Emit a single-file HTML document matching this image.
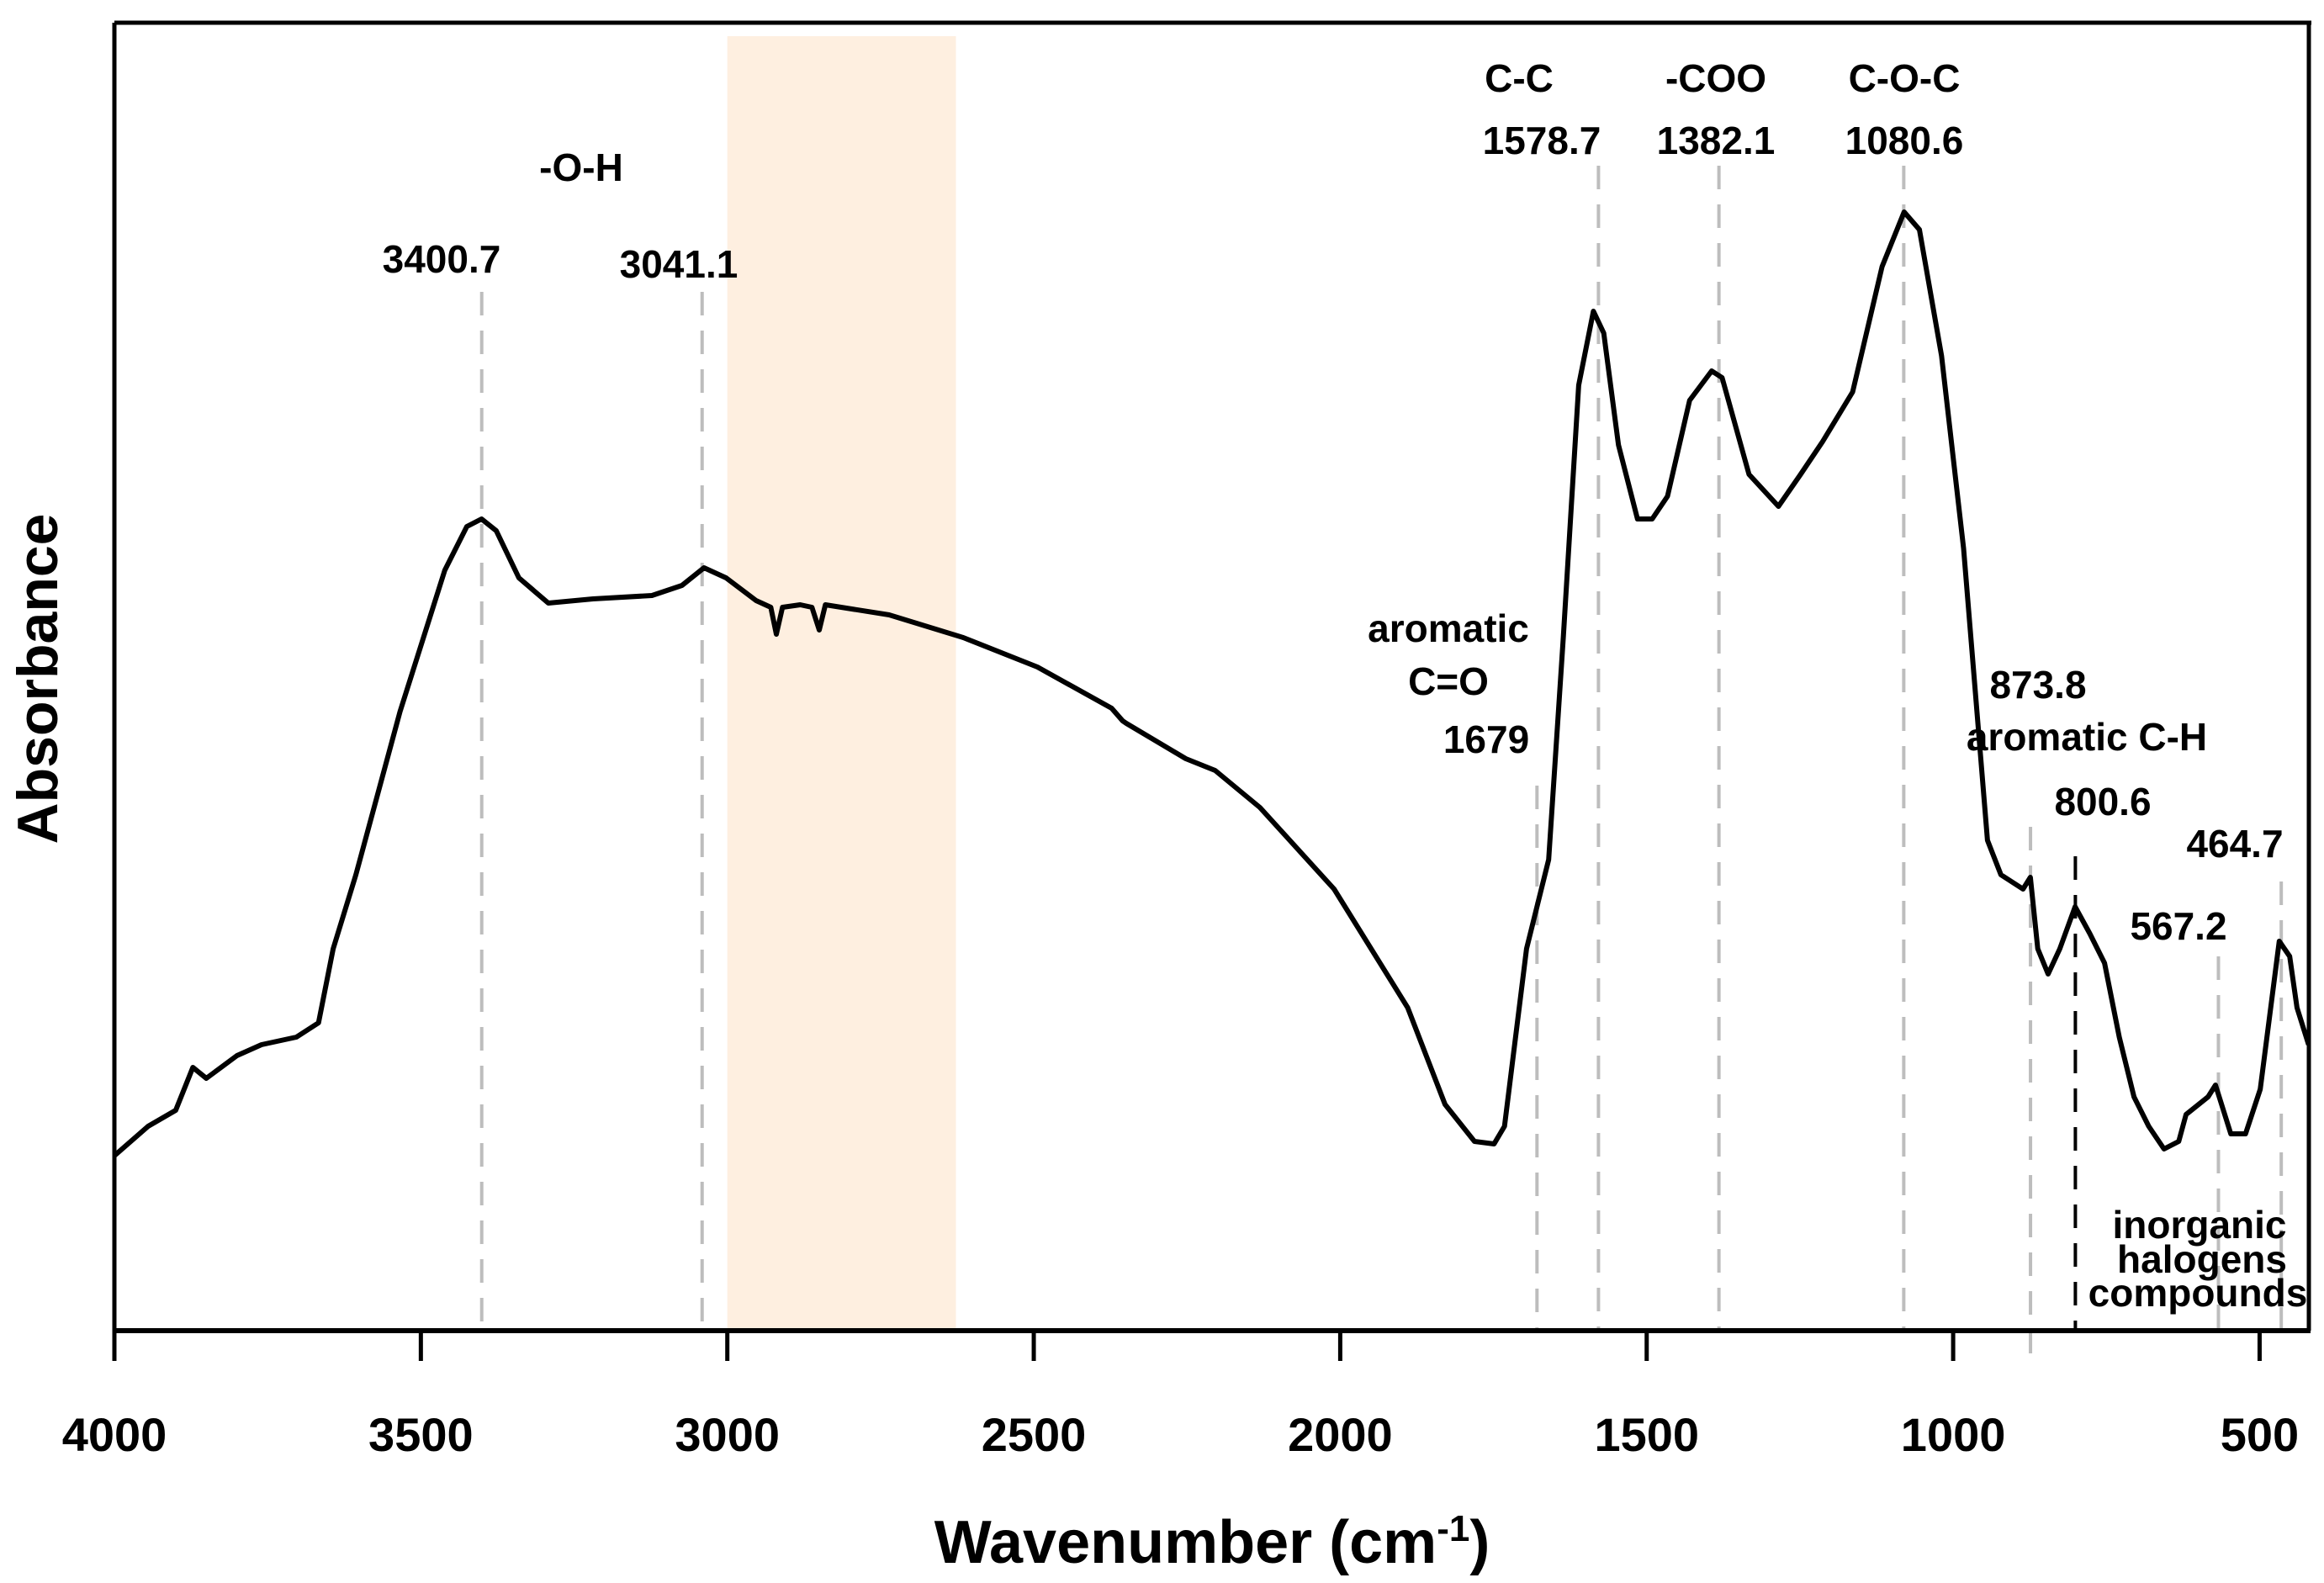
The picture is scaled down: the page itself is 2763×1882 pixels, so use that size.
<!DOCTYPE html>
<html><head><meta charset="utf-8"><style>
html,body{margin:0;padding:0;background:#fff;}
svg{display:block;font-family:"Liberation Sans",Arial,sans-serif;font-weight:bold;}
</style></head><body>
<svg id="chart" width="2763" height="1882" viewBox="0 0 2763 1882">
<g id="band"></g>
<g id="refs"></g>
<g id="axes"></g>
<g id="series"></g>
<g id="labels"></g>
</svg>
<script>
const wavenumbers = [4000,3945,3900,3872,3850,3800,3760,3703,3667,3643,3606,3534,3461,3425,3401,3377,3340,3292,3219,3123,3074,3038,3002,2953,2929,2920,2910,2881,2862,2850,2840,2736,2615,2494,2373,2355,2349,2252,2204,2131,2010,1890,1829,1781,1749,1732,1696,1660,1636,1611,1587,1570,1546,1515,1491,1466,1430,1394,1377,1333,1285,1249,1213,1164,1116,1080,1055,1019,983,944,922,886,874,862,845,826,801,777,753,729,705,681,656,632,620,584,572,547,523,499,468,451,439,420];
const absorbance = [208,243,262,313,300,327,340,349,366,454,542,736,904,956,965,951,895,865,870,874,886,907,895,868,860,828,860,863,860,833,863,851,824,789,740,725,722,680,666,622,525,384,269,225,222,243,454,560,824,1124,1212,1186,1053,965,965,992,1106,1141,1133,1018,980,1018,1057,1116,1265,1330,1309,1159,930,583,542,525,539,454,424,454,504,472,437,349,278,243,216,225,257,278,292,234,234,287,463,445,384,340];
const xTicks = [4000,3500,3000,2500,2000,1500,1000,500];
const refPeaks = [3400.7,3041.1,1679,1578.7,1382.1,1080.6,873.8,800.6,567.2,464.7];
const refTops = [347,347,934,197,197,197,983,1018,1137,1048];
const bandRange = [3000,2627];

const L=136,B=1582,R=2745,TOP=27;
const xs = v => L + (4000 - v) * 0.7287;
const ys = a => B - a;
const NS="http://www.w3.org/2000/svg";
function mk(tag, parent, attrs){const e=document.createElementNS(NS,tag);for(const k in attrs)e.setAttribute(k,attrs[k]);parent.appendChild(e);return e;}

const bandG=document.getElementById('band');
const band=mk('rect',bandG,{x:xs(bandRange[0]),y:43,width:xs(bandRange[1])-xs(bandRange[0]),height:B-43,fill:'#feefe0'});



const refG=document.getElementById('refs');
refPeaks.forEach((p,i)=>{
  const black = (p===800.6);
  const bottom = (p===873.8)?1610:B;
  const ln=mk('line',refG,{x1:xs(p),x2:xs(p),y1:refTops[i],y2:bottom,stroke:black?'#000':'#bdbdbd','stroke-width':4,'stroke-dasharray':'28,18'});
  
  
});

const ax=document.getElementById('axes');
const xa=mk('line',ax,{x1:L-2,x2:R+2,y1:B,y2:B,stroke:'#000','stroke-width':6});


const ya=mk('line',ax,{x1:L,x2:L,y1:TOP,y2:B+36,stroke:'#000','stroke-width':5});


const ta=mk('line',ax,{x1:L,x2:R+3,y1:TOP,y2:TOP,stroke:'#000','stroke-width':5});


const ra=mk('line',ax,{x1:R,x2:R,y1:TOP,y2:B,stroke:'#000','stroke-width':5});


xTicks.forEach(t=>{
  const tk=mk('line',ax,{x1:xs(t),x2:xs(t),y1:B,y2:B+36,stroke:'#000','stroke-width':5});
  
  
  const tl=mk('text',ax,{x:xs(t),y:1725,'text-anchor':'middle','font-size':56});
  tl.textContent=t;
  
  
});

const sg=document.getElementById('series');
let d='';
wavenumbers.forEach((v,i)=>{d+=(i?'L':'M')+xs(v).toFixed(1)+','+ys(absorbance[i]).toFixed(1);});
const path=mk('path',sg,{d:d,fill:'none',stroke:'#000','stroke-width':6,'stroke-linejoin':'round'});


</script>
<script>
const lg=document.getElementById('labels');
const annotations=[
 ['-O-H',691,215,'oh-label'],
 ['3400.7',525,324,'label-3400-7'],
 ['3041.1',807,330,'label-3041-1'],
 ['C-C',1806,109,'cc-label'],
 ['1578.7',1833,183,'label-1578-7'],
 ['-COO',2040,109,'coo-label'],
 ['1382.1',2040,183,'label-1382-1'],
 ['C-O-C',2264,109,'coc-label'],
 ['1080.6',2264,183,'label-1080-6'],
 ['aromatic',1722,763,'aromatic-label'],
 ['C=O',1722,826,'co-label'],
 ['1679',1767,895,'label-1679'],
 ['873.8',2423,830,'label-873-8'],
 ['aromatic C-H',2481,892,'aromatic-ch-label'],
 ['800.6',2500,969,'label-800-6'],
 ['567.2',2590,1117,'label-567-2'],
 ['464.7',2657,1019,'label-464-7'],
 ['inorganic',2615,1472,'inorganic-label'],
 ['halogens',2618,1513,'halogens-label'],
 ['compounds',2613,1553,'compounds-label']
];
annotations.forEach(a=>{
  const t=mk('text',lg,{x:a[1],y:a[2],'text-anchor':'middle','font-size':46});
  t.textContent=a[0];
  
  
});
const xt=mk('text',lg,{x:1441,y:1858,'text-anchor':'middle','font-size':72});
xt.innerHTML='Wavenumber (cm<tspan dy="-26" font-size="44">-1</tspan><tspan dy="26">)</tspan>';


const yt=mk('text',lg,{x:0,y:0,'text-anchor':'middle','font-size':68,transform:'translate(68,807) rotate(-90)'});
yt.textContent='Absorbance';


</script>
</body></html>
